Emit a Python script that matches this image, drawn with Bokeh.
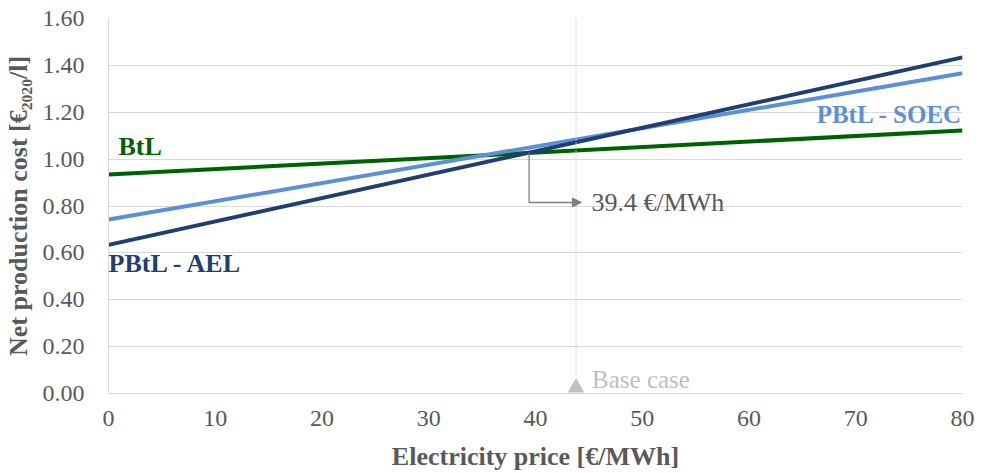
from bokeh.plotting import figure
from bokeh.models import (Range1d, FixedTicker, NumeralTickFormatter, Label, Arrow,
                          NormalHead, Span)
from bokeh.embed import file_html
from bokeh.resources import INLINE

# ---- data ----
price = [0, 80]
btl = [0.934, 1.122]
pbtl_soec = [0.742, 1.366]
pbtl_ael = [0.634, 1.434]

x_ticks = [0, 10, 20, 30, 40, 50, 60, 70, 80]
y_ticks = [0.0, 0.2, 0.4, 0.6, 0.8, 1.0, 1.2, 1.4, 1.6]

base_case_price = 43.8
break_even_price = 39.4
break_even_cost = 1.027
annot_y = 0.815
annot_x_end = 44.3
annot_text = "39.4 €/MWh"

FONT = "Liberation Serif"
GREEN = "#006100"
LIGHTBLUE = "#5B8FD6"
DARKBLUE = "#1F3F73"
GRID = "#D9D9D9"
TICK = "#595959"

p = figure(width=988, height=473, output_backend="svg", toolbar_location=None,
           x_range=Range1d(0, 80), y_range=Range1d(0, 1.6),
           min_border_left=107, min_border_right=26, min_border_top=18, min_border_bottom=80)
p.outline_line_color = None
p.background_fill_color = "white"
p.border_fill_color = "white"

p.xgrid.grid_line_color = None
p.ygrid.grid_line_color = GRID
p.ygrid.grid_line_width = 1

for ax in (p.xaxis, p.yaxis):
    ax.major_tick_line_color = None
    ax.minor_tick_line_color = None
    ax.axis_line_color = GRID
    ax.major_label_text_font = FONT
    ax.major_label_text_font_size = "24px"
    ax.major_label_text_color = TICK
    ax.axis_label_text_font = FONT
    ax.axis_label_text_font_size = "26px"
    ax.axis_label_text_font_style = "bold"
    ax.axis_label_text_color = TICK

p.xaxis.ticker = FixedTicker(ticks=x_ticks)
p.yaxis.ticker = FixedTicker(ticks=y_ticks)
p.yaxis.formatter = NumeralTickFormatter(format="0.00")
p.xaxis.axis_label = "Electricity price [€/MWh]"
p.yaxis.axis_label = "Net production cost [€₂₀₂₀/l]"
p.xaxis.major_label_standoff = 11
p.xaxis.axis_label_standoff = 13
p.yaxis.major_label_standoff = 18
p.yaxis.axis_label_standoff = 7

# base case vertical line
p.add_layout(Span(location=base_case_price, dimension="height", line_color="#C8C8C8",
                  line_width=1, line_dash="2 2"))

# series
p.line(price, btl, line_color=GREEN, line_width=4)
p.line(price, pbtl_soec, line_color=LIGHTBLUE, line_width=4)
p.line(price, pbtl_ael, line_color=DARKBLUE, line_width=4)

# base case marker
p.scatter([base_case_price], [0.025], marker="triangle", size=15, color="#BFBFBF")
p.add_layout(Label(x=base_case_price, y=0.06, x_offset=16, text="Base case",
                   text_font=FONT, text_font_size="25px", text_color="#BFBFBF",
                   text_baseline="middle"))

# break-even annotation
p.line([break_even_price, break_even_price, annot_x_end - 0.6],
       [break_even_cost, annot_y, annot_y], line_color="#7F7F7F", line_width=1.3)
p.add_layout(Arrow(end=NormalHead(size=9, fill_color="#7F7F7F", line_color="#7F7F7F"),
                   x_start=annot_x_end - 1, y_start=annot_y, x_end=annot_x_end, y_end=annot_y,
                   line_color="#7F7F7F", line_width=1.3))
p.add_layout(Label(x=annot_x_end, y=annot_y, x_offset=10, text=annot_text,
                   text_font=FONT, text_font_size="26px", text_color=TICK,
                   text_baseline="middle"))

# series labels
p.add_layout(Label(x=0.93, y=1.054, text="BtL", text_font=FONT,
                   text_font_size="26px", text_font_style="bold", text_color=GREEN,
                   text_baseline="middle"))
p.add_layout(Label(x=80, y=1.19, text="PBtL - SOEC", text_font=FONT,
                   text_font_size="25px", text_font_style="bold", text_color=LIGHTBLUE,
                   text_align="right", text_baseline="middle"))
p.add_layout(Label(x=0, y=0.555, text="PBtL - AEL", text_font=FONT,
                   text_font_size="26px", text_font_style="bold", text_color=DARKBLUE,
                   text_baseline="middle"))

open("out.html", "w").write(file_html(p, INLINE))
